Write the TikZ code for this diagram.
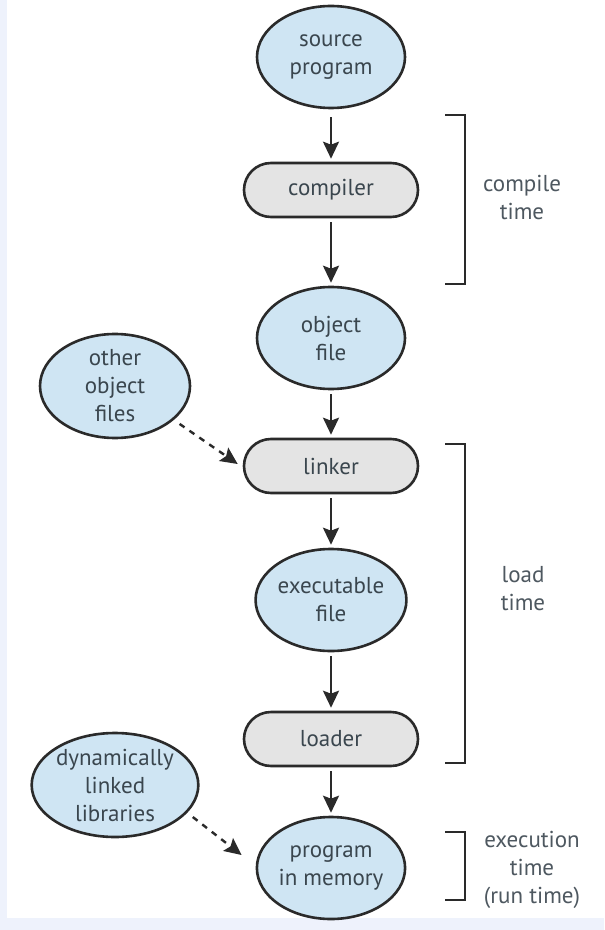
\documentclass[tikz,border=0pt]{standalone}
\usepackage{fontspec}
\setmainfont{PT Sans}
\usepackage{tikz}
\usetikzlibrary{shapes}
\usetikzlibrary{arrows.meta}
\usepackage{xcolor}
\definecolor{filebg}{HTML}{CFE5F3}
\definecolor{stepbg}{HTML}{E4E4E4}
\definecolor{edge}{HTML}{2A2A2A}
\definecolor{ink}{HTML}{3A464E}
\definecolor{pagebg}{HTML}{EEF2FC}

\begin{document}
\begin{tikzpicture}[x=0.5pt,y=-0.5pt,
    file/.style={ellipse,draw=edge,line width=1.3pt,fill=filebg,inner sep=0pt,
      minimum width=74pt,minimum height=51pt,align=center,text=ink,
      font=\fontsize{11.5}{14}\selectfont},
    stepbox/.style={rectangle,rounded corners=13.5pt,draw=edge,line width=1.3pt,fill=stepbg,
      minimum width=87pt,minimum height=27pt,text=ink,font=\fontsize{11.5}{14}\selectfont},
    arr/.style={-{Stealth[length=8.5pt,width=8pt,inset=1.5pt]},line width=1.2pt,draw=edge},
    darr/.style={arr,dashed},
    brk/.style={line width=1.2pt,draw=edge},
    lbl/.style={align=center,text=ink!90,font=\fontsize{11.5}{14}\selectfont}]
      \useasboundingbox (0,0) rectangle (604,930);
      \fill[pagebg] (0,0) rectangle (604,930);
      \fill[white] (7,0) rectangle (604,918);
      % main column
      \node[file] (src) at (331,57) {source\\program};
      \node[stepbox] (comp) at (331,190) {compiler};
      \node[file] (obj) at (331,338) {object\\file};
      \node[stepbox] (link) at (331,466) {linker};
      \node[file] (exe) at (331,600) {executable\\file};
      \node[stepbox] (load) at (331,739) {loader};
      \node[file] (mem) at (331,868) {program\\in memory};
      % side inputs
      \node[file,minimum width=75pt,minimum height=52pt] (oof) at (115,386) {other\\object\\files};
      \node[file,minimum width=75pt,minimum height=52pt] (dll) at (115,785) {dynamically\\linked\\libraries};
      \draw[arr,shorten <=4pt,shorten >=1.5pt] (src) -- (comp);
      \draw[arr,shorten <=2pt,shorten >=1.5pt] (comp) -- (obj);
      \draw[arr,shorten <=2pt,shorten >=1.5pt] (obj) -- (link);
      \draw[arr,shorten <=2pt,shorten >=1.5pt] (link) -- (exe);
      \draw[arr,shorten <=2pt,shorten >=1.5pt] (exe) -- (load);
      \draw[arr,shorten <=2pt,shorten >=1.5pt] (load) -- (mem);
      \draw[darr,shorten <=3.5pt] (oof.-30) -- ([shift={(-5,-2)}]link.west);
      \draw[darr,shorten <=3.5pt] (dll.-21) -- ([shift={(-14,-13)}]mem.west);
      % brackets
      \draw[brk] (445,115) -- (465,115) -- (465,284) -- (445,284);
      \draw[brk] (445,444) -- (465,444) -- (465,763) -- (445,763);
      \draw[brk] (445,832) -- (465,832) -- (465,900) -- (445,900);
      \node[lbl] (ctime) at (522,197) {compile\\time};
      \node[lbl] (ltime) at (523,589) {load\\time};
      \node[lbl] (etime) at (532,870) {execution\\time\\(run time)};
\end{tikzpicture}
\end{document}
